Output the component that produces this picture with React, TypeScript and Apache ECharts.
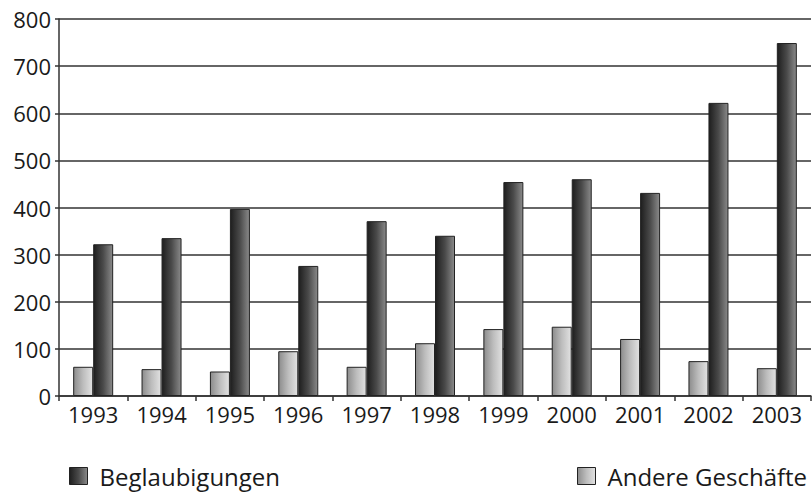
import React, { useEffect, useRef } from "react";
import * as echarts from "echarts";

const years = ["1993", "1994", "1995", "1996", "1997", "1998", "1999", "2000", "2001", "2002", "2003"];
const andereGeschaefte = [62, 57, 52, 95, 62, 112, 142, 147, 121, 74, 59];
const beglaubigungen = [322, 335, 397, 276, 371, 340, 454, 460, 431, 622, 749];
const yTicks = { min: 0, max: 800, interval: 100 };

const FONT = "'Open Sans', 'Noto Sans', sans-serif";

const darkGrad = new echarts.graphic.LinearGradient(0, 0, 1, 0, [
  { offset: 0, color: "#1e1e1e" },
  { offset: 0.5, color: "#4a4a4a" },
  { offset: 1, color: "#8a8a8a" },
]);
const lightGrad = new echarts.graphic.LinearGradient(0, 0, 1, 0, [
  { offset: 0, color: "#8c8c8c" },
  { offset: 0.5, color: "#bdbdbd" },
  { offset: 1, color: "#e2e2e2" },
]);

const legendText = {
  fontSize: 24,
  lineHeight: 26,
  color: "#1a1a1a",
  fontFamily: FONT,
  padding: [0, 0, 0, 7],
};

export default function App() {
  const ref = useRef<HTMLDivElement>(null);
  useEffect(() => {
    if (!ref.current) return;
    const chart = echarts.init(ref.current, null, { renderer: "svg" });
    chart.setOption({
      animation: false,
      backgroundColor: "#ffffff",
      textStyle: { fontFamily: FONT },
      grid: { left: 59, right: 1, top: 19, bottom: 99, containLabel: false },
      legend: [
        {
          data: ["Beglaubigungen"],
          left: 64,
          top: 458,
          icon: "rect",
          itemWidth: 18,
          itemHeight: 17,
          itemStyle: { borderColor: "#222", borderWidth: 1 },
          textStyle: legendText,
        },
        {
          data: ["Andere Geschäfte"],
          left: 572,
          top: 458,
          icon: "rect",
          itemWidth: 18,
          itemHeight: 17,
          itemStyle: { borderColor: "#222", borderWidth: 1 },
          textStyle: legendText,
        },
      ],
      xAxis: {
        type: "category",
        data: years,
        axisLine: { show: true, lineStyle: { color: "#333", width: 1.5 } },
        axisTick: { show: true, alignWithLabel: false, length: 5, lineStyle: { color: "#333", width: 1.5 } },
        axisLabel: { fontSize: 22, color: "#1a1a1a", margin: 7, fontFamily: FONT },
      },
      yAxis: {
        type: "value",
        min: yTicks.min,
        max: yTicks.max,
        interval: yTicks.interval,
        axisLine: { show: true, lineStyle: { color: "#333", width: 1.5 } },
        axisTick: { show: true, length: 4, lineStyle: { color: "#333", width: 1.5 } },
        axisLabel: { fontSize: 22, color: "#1a1a1a", margin: 8, fontFamily: FONT },
        splitLine: { show: true, lineStyle: { color: "#333", width: 1.5 } },
      },
      series: [
        {
          name: "Andere Geschäfte",
          type: "bar",
          data: andereGeschaefte,
          barWidth: 20,
          barGap: "0%",
          itemStyle: { color: lightGrad, borderColor: "#222", borderWidth: 1 },
        },
        {
          name: "Beglaubigungen",
          type: "bar",
          data: beglaubigungen,
          barWidth: 20,
          barGap: "0%",
          itemStyle: { color: darkGrad, borderColor: "#222", borderWidth: 1 },
        },
      ],
    });
    return () => chart.dispose();
  }, []);
  return (
    <div
      ref={ref}
      style={{ position: "fixed", left: 0, top: 0, width: 812, height: 495 }}
    />
  );
}
